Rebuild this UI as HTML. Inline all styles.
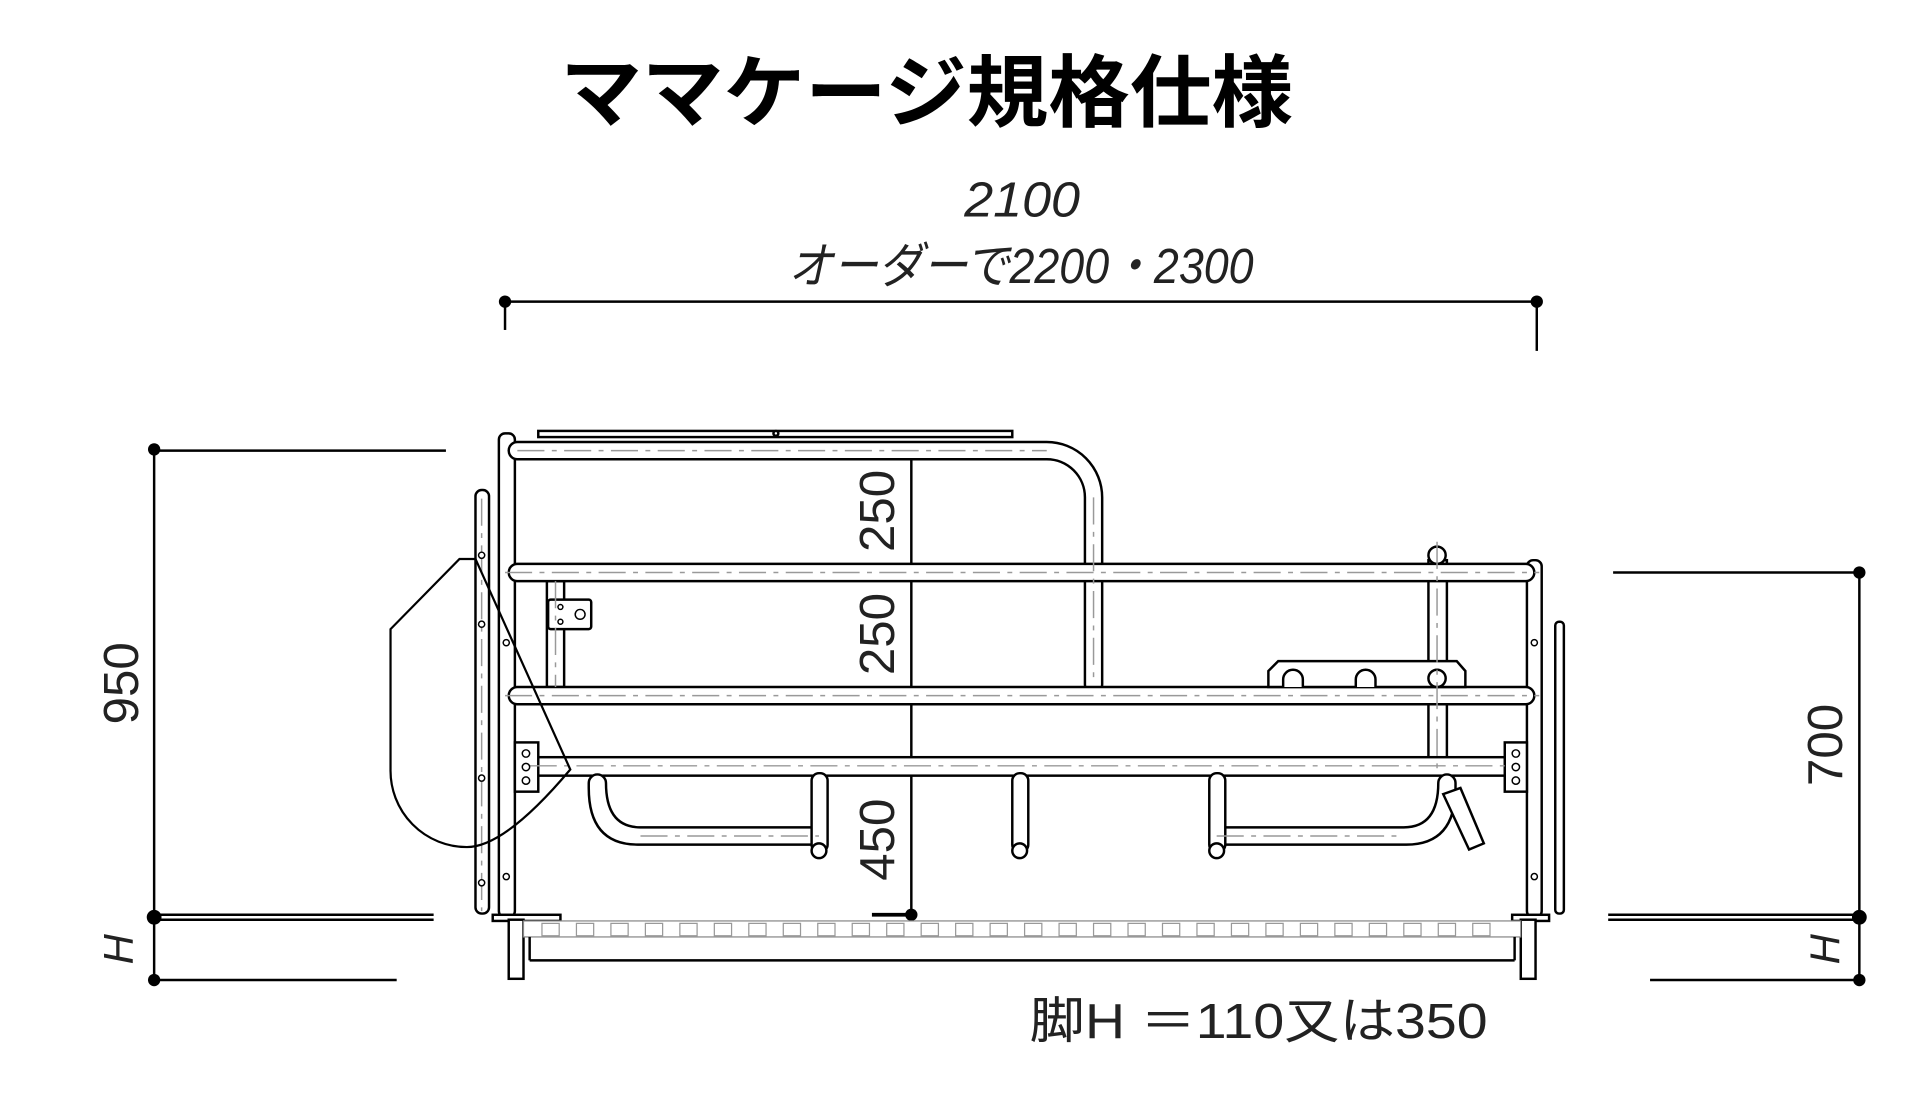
<!DOCTYPE html>
<html><head><meta charset="utf-8"><style>html,body{margin:0;padding:0;background:#fff}svg{display:block}</style></head>
<body>
<svg width="1931" height="1097" viewBox="0 0 1568 891" xmlns="http://www.w3.org/2000/svg">
<g font-family="'Liberation Sans','Noto Sans CJK JP',sans-serif">
<text x="455" y="98" font-size="64" font-weight="bold" textLength="595" lengthAdjust="spacingAndGlyphs" font-family="'Noto Sans CJK JP',sans-serif">ママケージ規格仕様</text>
<text x="783" y="176" font-size="40" textLength="94" lengthAdjust="spacingAndGlyphs" fill="#222" font-style="italic">2100</text>
<text x="640" y="230" font-size="40" textLength="378" lengthAdjust="spacingAndGlyphs" fill="#222" font-style="italic">オーダーで2200・2300</text>
<text x="836" y="843" font-size="40" textLength="372" lengthAdjust="spacingAndGlyphs" fill="#222">脚H ＝110又は350</text>
<text transform="translate(112,555) rotate(-90)" font-size="40" text-anchor="middle" fill="#222">950</text>
<text transform="translate(108,771) rotate(-90)" font-size="34" text-anchor="middle" fill="#222" font-style="italic">H</text>
<text transform="translate(1496,605) rotate(-90)" font-size="40" text-anchor="middle" fill="#222">700</text>
<text transform="translate(1494,771) rotate(-90)" font-size="34" text-anchor="middle" fill="#222" font-style="italic">H</text>
<text transform="translate(726,415) rotate(-90)" font-size="40" text-anchor="middle" fill="#222">250</text>
<text transform="translate(726,515) rotate(-90)" font-size="40" text-anchor="middle" fill="#222">250</text>
<text transform="translate(726,682) rotate(-90)" font-size="40" text-anchor="middle" fill="#222">450</text>
</g>
<g stroke="#000" stroke-width="2" fill="none">
<!-- top dimension -->
<line x1="410" y1="245" x2="1248" y2="245"/><line x1="410" y1="245" x2="410" y2="268"/><line x1="1248" y1="245" x2="1248" y2="285"/>
<!-- left dim -->
<line x1="125" y1="365" x2="125" y2="796"/>
<line x1="125" y1="366" x2="362" y2="366"/>
<line x1="125" y1="743" x2="352" y2="743"/><line x1="125" y1="747" x2="352" y2="747"/>
<line x1="125" y1="796" x2="322" y2="796"/>
<!-- right dim -->
<line x1="1510" y1="465" x2="1510" y2="796"/>
<line x1="1310" y1="465" x2="1510" y2="465"/>
<line x1="1306" y1="743" x2="1510" y2="743"/><line x1="1306" y1="747" x2="1510" y2="747"/>
<line x1="1340" y1="796" x2="1510" y2="796"/>
<!-- center dim -->
<line x1="740" y1="365" x2="740" y2="743"/>
<g stroke-width="3"><line x1="670" y1="365" x2="740" y2="365"/><line x1="670" y1="465" x2="740" y2="465"/><line x1="670" y1="565" x2="740" y2="565"/><line x1="708" y1="743" x2="740" y2="743"/></g>
</g>
<g fill="#000">
<circle cx="410" cy="245" r="5"/><circle cx="1248" cy="245" r="5"/>
<circle cx="125" cy="365" r="5"/><circle cx="125" cy="745" r="6"/><circle cx="125" cy="796" r="5"/>
<circle cx="1510" cy="465" r="5"/><circle cx="1510" cy="745" r="6"/><circle cx="1510" cy="796" r="5"/>
<circle cx="740" cy="365" r="5"/><circle cx="740" cy="465" r="5"/><circle cx="740" cy="565" r="5"/><circle cx="740" cy="743" r="5"/>
</g>
<!-- frame -->
<g stroke="#000" stroke-width="2" fill="#fff">
<!-- top flat bar -->
<rect x="437" y="350" width="385" height="5"/>
<circle cx="630" cy="352" r="2"/>
<!-- left rod -->
<rect x="386" y="398" width="11" height="344" rx="5"/>
<!-- left post -->
<rect x="405" y="352" width="13" height="393" rx="5"/>
<!-- right post -->
<rect x="1240" y="455" width="12" height="290" rx="5"/>
<rect x="1263" y="505" width="7" height="237" rx="3"/>
<!-- verticals -->
<rect x="444" y="472" width="14" height="86"/>
<rect x="1160" y="455" width="15" height="170"/>
<circle cx="1167" cy="451" r="7"/>
<!-- top rail with bend -->
<path d="M420 359 H850 A45 45 0 0 1 895 404 V556 A7 7 0 0 1 881 556 V404 A31 31 0 0 0 850 373 H420 A7 7 0 0 1 420 359 Z"/>
<rect x="413" y="458" width="833" height="14" rx="7"/>
<rect x="413" y="558" width="833" height="14" rx="7"/>
<rect x="435" y="615" width="790" height="15"/>
<!-- bracket -->
<rect x="445" y="487" width="35" height="24" rx="2"/>
<path d="M1030 558 V545 L1038 537 H1183 L1190 545 V558 Z"/>
<path d="M1042 558 V552 A8 8 0 0 1 1058 552 V558 M1101 558 V552 A8 8 0 0 1 1117 552 V558"/>
<circle cx="1167" cy="551" r="7"/>
<!-- end plates -->
<rect x="418" y="603" width="19" height="40"/>
<rect x="1222" y="603" width="18" height="40"/>
<!-- hooks -->
<path d="M478 636 A7 7 0 0 1 492 636 Q492 672 520 672 H665 V686 H518 Q478 686 478 640 Z"/>
<path d="M1182 636 A7 7 0 0 0 1168 636 Q1168 672 1140 672 H988 V686 H1142 Q1182 686 1182 640 Z"/>
<path d="M1172 645 L1186 640 L1205 685 L1193 690 Z"/>
<rect x="659" y="628" width="13" height="64" rx="6"/>
<rect x="822" y="628" width="13" height="64" rx="6"/>
<rect x="982" y="628" width="13" height="64" rx="6"/>
<circle cx="665" cy="691" r="6"/><circle cx="828" cy="691" r="6"/><circle cx="988" cy="691" r="6"/>
<!-- floor -->
<rect x="400" y="743" width="55" height="5"/>
<rect x="1228" y="743" width="30" height="5"/>
<rect x="413" y="747" width="12" height="48"/>
<rect x="1235" y="747" width="12" height="48"/>
<rect x="425" y="748" width="810" height="13" stroke="#888" stroke-width="1"/>
<line x1="430" y1="780" x2="1230" y2="780"/>
<line x1="430" y1="761" x2="430" y2="780"/><line x1="1230" y1="761" x2="1230" y2="780"/>
</g>
<!-- grating squares -->
<g stroke="#999" stroke-width="1" fill="none">
<path d="M440 750h14v10h-14z M468 750h14v10h-14z M496 750h14v10h-14z M524 750h14v10h-14z M552 750h14v10h-14z M580 750h14v10h-14z M608 750h14v10h-14z M636 750h14v10h-14z M664 750h14v10h-14z M692 750h14v10h-14z M720 750h14v10h-14z M748 750h14v10h-14z M776 750h14v10h-14z M804 750h14v10h-14z M832 750h14v10h-14z M860 750h14v10h-14z M888 750h14v10h-14z M916 750h14v10h-14z M944 750h14v10h-14z M972 750h14v10h-14z M1000 750h14v10h-14z M1028 750h14v10h-14z M1056 750h14v10h-14z M1084 750h14v10h-14z M1112 750h14v10h-14z M1140 750h14v10h-14z M1168 750h14v10h-14z M1196 750h14v10h-14z"/>
</g>
<!-- center lines -->
<g stroke="#999" stroke-width="1.2" stroke-dasharray="22 6 4 6" fill="none">
<line x1="420" y1="366" x2="850" y2="366"/>
<line x1="888" y1="404" x2="888" y2="556"/>
<line x1="410" y1="465" x2="1250" y2="465"/>
<line x1="410" y1="565" x2="1250" y2="565"/>
<line x1="430" y1="622" x2="1230" y2="622"/>
<line x1="520" y1="679" x2="665" y2="679"/>
<line x1="988" y1="679" x2="1140" y2="679"/>
<line x1="1167" y1="440" x2="1167" y2="625"/>
<line x1="391" y1="405" x2="391" y2="740"/>
<line x1="451" y1="472" x2="451" y2="558"/>
</g>
<!-- small holes -->
<g stroke="#000" stroke-width="1.2" fill="#fff">
<circle cx="391" cy="451" r="2.5"/><circle cx="391" cy="507" r="2.5"/><circle cx="391" cy="632" r="2.5"/><circle cx="391" cy="717" r="2.5"/>
<circle cx="411" cy="522" r="2.5"/><circle cx="411" cy="712" r="2.5"/>
<circle cx="1246" cy="522" r="2.5"/><circle cx="1246" cy="712" r="2.5"/>
<circle cx="427" cy="612" r="3"/><circle cx="427" cy="623" r="3"/><circle cx="427" cy="634" r="3"/>
<circle cx="1231" cy="612" r="3"/><circle cx="1231" cy="623" r="3"/><circle cx="1231" cy="634" r="3"/>
<circle cx="471" cy="499" r="4"/><circle cx="455" cy="493" r="2"/><circle cx="455" cy="505" r="2"/>
</g>
<!-- left door outline -->
<path d="M386 454 H373 L317 511 V625 A62 62 0 0 0 379 688 Q410 688 463 625 Z" stroke="#000" stroke-width="1.8" fill="none"/>
</svg>
</body></html>
